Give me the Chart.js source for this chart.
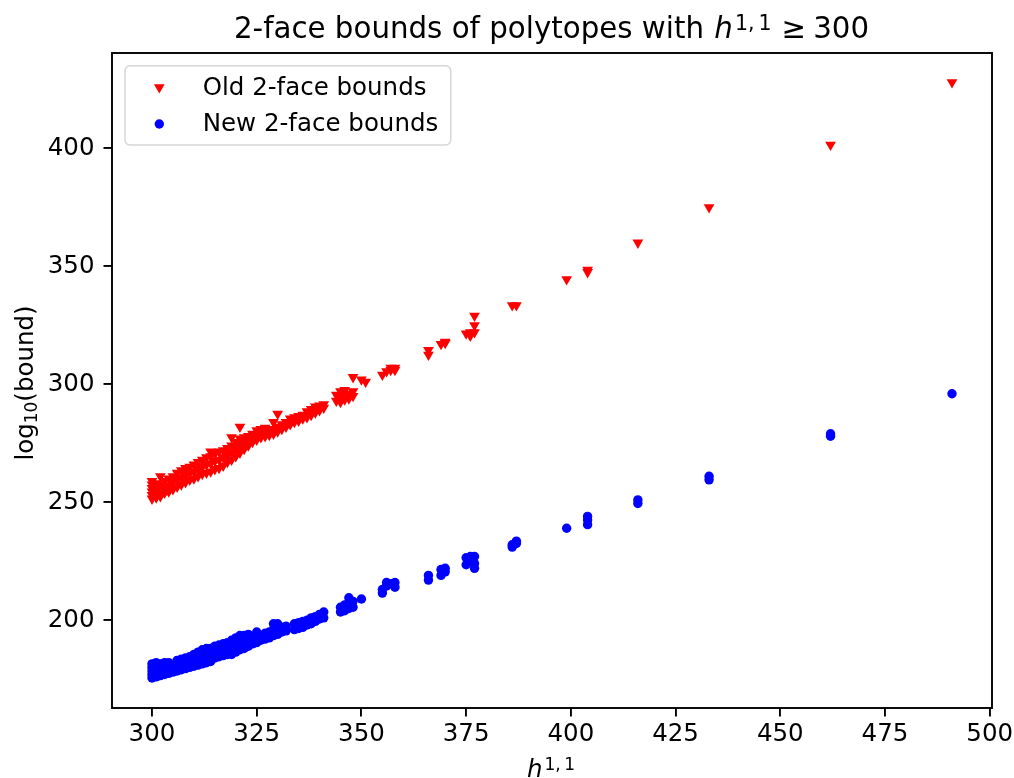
<!DOCTYPE html>
<html>
<head>
<meta charset="utf-8">
<script src="https://cdn.jsdelivr.net/npm/chart.js@4.4.1/dist/chart.umd.min.js"></script>
<style>
    html, body { margin: 0; padding: 0; background: #ffffff; }
    #wrap { width: 1014px; height: 778px; }
</style>
</head>
<body>
<div id="wrap"><canvas id="bounds-chart" width="1014" height="778"></canvas></div>
<script>
// axis ticks and limits
const xTicks = [300, 325, 350, 375, 400, 425, 450, 475, 500];
const yTicks = [200, 250, 300, 350, 400];
const xRange = [290.45, 500.55];
const yRange = [162.8, 440.4];

// old 2-face bounds: h11 value and the log10(bound) values seen at it
const oldH11 = [300, 301, 302, 303, 304, 305, 306, 307, 308, 309, 310, 311, 312, 313, 314, 315, 316, 317, 318, 319,
    320, 321, 322, 323, 324, 325, 326, 327, 328, 329, 330, 331, 332, 333, 334, 335, 336, 337, 338, 339, 340, 341,
    344, 345, 346, 347, 348, 350, 351, 355, 356, 357, 358, 366, 369, 370, 375, 376, 377, 386, 387, 399, 404, 416,
    433, 462, 491];
const oldBound = [
    [251.5, 253, 254.5, 256, 257.5, 259], [252, 254, 256, 258], [252.5, 255, 257.5, 261], [254, 256.5, 259],
    [254.5, 257, 260], [255.5, 258.5, 261], [256.5, 259.5, 262.5], [257.5, 260.5, 263.5], [258.5, 261.5, 264.5],
    [259.5, 262.5, 265], [260, 263, 266], [261, 264, 267], [262, 265, 268], [262.5, 266, 269],
    [263, 266.5, 269.5, 271.5], [264, 267.5, 270.5], [264.5, 268, 271.5], [265.5, 269, 272], [267, 270, 273],
    [268, 271, 274, 277.5], [269.5, 272.5, 275.5], [271, 274, 277, 282], [272.5, 275, 277.5], [274, 276, 278],
    [275.5, 277.5, 279], [276.5, 278.5, 280.5], [277.5, 279, 281], [278, 279.5, 281.5], [278.5, 280.5],
    [279, 281, 284], [280, 282, 287.5], [281, 283], [282, 284], [283, 285.5], [284, 286], [284.5, 286.5],
    [285.5, 287], [286, 288.5], [287, 289.5], [288, 290.5], [289, 291], [290, 291.5],
    [293, 295.5], [292.5, 294.5, 297], [293.5, 295.5, 297.5], [294, 296], [295, 297, 303], [302], [301],
    [304], [305.5], [306, 307], [306, 307], [312.5, 314.5], [317], [317.5, 318], [321.5], [322, 320.5],
    [322, 325, 329], [333.5], [333.5], [344.5], [347.5, 348.5], [360], [375], [401.5], [428]
];

// new 2-face bounds
const newH11 = [300, 301, 302, 303, 304, 305, 306, 307, 308, 309, 310, 311, 312, 313, 314, 315, 316, 317, 318, 319,
    320, 321, 322, 323, 324, 325, 326, 327, 328, 329, 330, 331, 332, 334, 335, 336, 337, 338, 339, 340, 341,
    345, 346, 347, 348, 350, 355, 356, 357, 358, 366, 369, 370, 375, 376, 377, 386, 387, 399, 404, 416, 433,
    462, 491];
const newBound = [
    [175.5, 177, 178.5, 180, 181.5], [176, 178, 180, 182], [176.5, 179, 181.5], [177, 179.5, 182], [177.5, 180, 182],
    [178, 180.5], [178.5, 181, 183], [179, 181.5, 183.5], [179.5, 182, 184], [180, 182.5, 184.5], [180.5, 183, 185.5],
    [181, 184, 186.5], [181.5, 184.5, 187.5], [182, 185, 188], [182.5, 185.5, 188], [184, 186.5, 189],
    [184.5, 187, 189.5], [185, 187.5, 190], [185.5, 188, 190.5], [185.5, 188.5, 191.5], [186.5, 189.5, 192.5],
    [187.5, 190.5, 193.5], [188, 191, 193.5], [189, 191.5, 194], [190, 192.5], [190.5, 193, 195], [191.5, 193.5],
    [192, 194.5], [192.5, 195], [193.5, 196, 198.5], [194, 196.5, 198.5], [195, 197], [195.5, 197.5],
    [196, 198.5], [196.5, 199], [197, 199.5], [198, 200], [198.5, 201], [199.5, 201.5], [200.5, 202.5],
    [201, 203.5], [203.5, 205.5], [204, 206.5], [205, 207.5, 209.5], [205.5, 208], [209], [211.5, 213],
    [214.5, 216], [215.5], [214, 216], [217, 219], [219, 221.5], [220.5, 222], [223.5, 226.5], [225, 227],
    [222, 224, 227], [231, 232], [232.5, 233.5], [239], [240.5, 242.5, 244], [249.5, 251], [259.5, 261],
    [278, 279], [296]
];

const FONT = "'DejaVu Sans', sans-serif";

function toPoints(h11, bounds) {
    const pts = [];
    h11.forEach((h, i) => {
        bounds[i].forEach(b => pts.push({ x: h, y: b }));
    });
    return pts;
}

// draws a row of text runs (for italic / super / subscripts), centred on x
function drawRuns(ctx, runs, x, y) {
    let total = 0;
    runs.forEach(r => {
        ctx.font = (r.italic ? 'oblique ' : '') + r.size + 'px ' + FONT;
        r.w = ctx.measureText(r.text).width;
        total += r.w + (r.gap || 0);
    });
    let cx = x - total / 2;
    ctx.textAlign = 'left';
    ctx.textBaseline = 'alphabetic';
    runs.forEach(r => {
        ctx.font = (r.italic ? 'oblique ' : '') + r.size + 'px ' + FONT;
        ctx.fillText(r.text, cx, y + (r.dy || 0));
        cx += r.w + (r.gap || 0);
    });
}

const decorPlugin = {
    id: 'decor',
    afterDraw(chart) {
        const ctx = chart.ctx;
        const area = chart.chartArea;
        ctx.save();

        // axes frame
        ctx.strokeStyle = '#000000';
        ctx.lineWidth = 1.9;
        ctx.strokeRect(area.left, area.top, area.right - area.left, area.bottom - area.top);

        ctx.fillStyle = '#000000';

        // title
        drawRuns(ctx, [
            { text: '2-face bounds of polytopes with ', size: 29.3, gap: 1 },
            { text: 'h', size: 29.3, italic: true, gap: 2 },
            { text: '1,\u20091', size: 20.5, dy: -8, gap: 10 },
            { text: '\u2265', size: 29.3, gap: 7 },
            { text: '300', size: 29.3 }
        ], 551.5, 38);

        // x label
        drawRuns(ctx, [
            { text: 'h', size: 24.5, italic: true, gap: 2 },
            { text: '1,\u20091', size: 17, dy: -6.5 }
        ], 551, 776.5);

        // y label
        ctx.save();
        ctx.translate(32.5, 383);
        ctx.rotate(-Math.PI / 2);
        drawRuns(ctx, [
            { text: 'log', size: 24.5 },
            { text: '10', size: 17, dy: 4 },
            { text: '(bound)', size: 24.5 }
        ], 0, 0);
        ctx.restore();

        // legend
        ctx.beginPath();
        ctx.roundRect(125, 65.7, 325.7, 79.3, 5);
        ctx.fillStyle = 'rgba(255,255,255,0.8)';
        ctx.fill();
        ctx.strokeStyle = '#d6d6d6';
        ctx.lineWidth = 1.5;
        ctx.stroke();

        const rows = [87.3, 124];
        chart.data.datasets.forEach((ds, i) => {
            ctx.fillStyle = ds.backgroundColor;
            Chart.helpers.drawPoint(ctx, {
                pointStyle: ds.pointStyle,
                rotation: ds.rotation || 0,
                radius: ds.pointRadius,
                borderWidth: 0
            }, 159.3, rows[i]);
            ctx.fillStyle = '#000000';
            ctx.font = '24.5px ' + FONT;
            ctx.textAlign = 'left';
            ctx.textBaseline = 'alphabetic';
            ctx.fillText(ds.label, 202.7, rows[i] + 7.3);
        });

        ctx.restore();
    }
};

const axisStyle = {
    grid: {
        display: true,
        drawOnChartArea: false,
        drawTicks: true,
        tickLength: 8.5,
        color: '#000000',
        lineWidth: 1.9
    },
    border: { display: false },
    ticks: {
        color: '#000000',
        autoSkip: false,
        maxRotation: 0,
        font: { family: FONT, size: 24.5 }
    }
};

new Chart(document.getElementById('bounds-chart'), {
    type: 'scatter',
    data: {
        datasets: [{
            label: 'Old 2-face bounds',
            data: toPoints(oldH11, oldBound),
            backgroundColor: '#ff0000',
            pointStyle: 'triangle',
            rotation: 180,
            pointRadius: 6.2,
            borderWidth: 0
        }, {
            label: 'New 2-face bounds',
            data: toPoints(newH11, newBound),
            backgroundColor: '#0000ff',
            pointStyle: 'circle',
            pointRadius: 4.7,
            borderWidth: 0
        }]
    },
    options: {
        responsive: false,
        animation: false,
        events: [],
        layout: { padding: { top: 53, right: 22, left: 0, bottom: 0 } },
        plugins: {
            legend: { display: false },
            tooltip: { enabled: false },
            title: { display: false }
        },
        scales: {
            x: {
                ...axisStyle,
                type: 'linear',
                min: xRange[0],
                max: xRange[1],
                ticks: { ...axisStyle.ticks, padding: 3 },
                afterBuildTicks: scale => { scale.ticks = xTicks.map(v => ({ value: v })); },
                afterFit: scale => {
                    scale.height = 70;
                    scale.paddingLeft = 0;
                    scale.paddingRight = 0;
                }
            },
            y: {
                ...axisStyle,
                type: 'linear',
                min: yRange[0],
                max: yRange[1],
                ticks: { ...axisStyle.ticks, padding: 9 },
                afterBuildTicks: scale => { scale.ticks = yTicks.map(v => ({ value: v })); },
                afterFit: scale => {
                    scale.width = 112;
                    scale.paddingTop = 0;
                    scale.paddingBottom = 0;
                }
            }
        }
    },
    plugins: [decorPlugin]
});
</script>
</body>
</html>
